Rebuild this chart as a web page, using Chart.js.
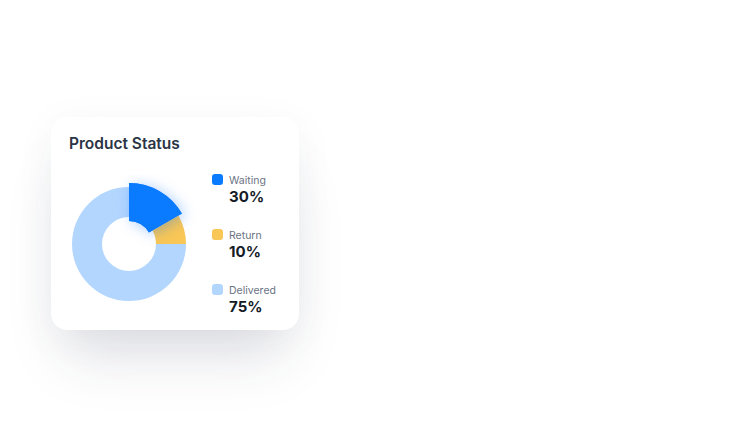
<!DOCTYPE html>
<html>
<head>
<meta charset="utf-8">
<script src="https://cdn.jsdelivr.net/npm/chart.js@4.4.1/dist/chart.umd.min.js"></script>
<style>
  html, body { margin: 0; padding: 0; background: #ffffff; }
  body { width: 735px; height: 435px; position: relative; overflow: hidden; font-family: Inter, "Noto Sans", sans-serif; }
  .card {
    position: absolute; left: 51px; top: 117px; width: 248px; height: 213px;
    background: #ffffff; border-radius: 16px;
    box-shadow: 0 40px 56px -16px rgba(40, 50, 80, 0.15), 0 8px 40px rgba(40, 50, 80, 0.05);
  }
  .title {
    position: absolute; left: 69px; top: 134px; font-size: 15.5px; line-height: 20px;
    font-weight: 600; color: #2b3445; white-space: nowrap;
  }
  #wrap { position: absolute; left: 59px; top: 174px; width: 140px; height: 140px; }
  .item { position: absolute; left: 212px; }
  .sw { position: absolute; left: 0; top: 0; width: 11px; height: 11px; border-radius: 3px; }
  .lab { position: absolute; left: 17px; top: 0.5px; font-size: 10.5px; line-height: 11px; color: #6b7383; white-space: nowrap; }
  .pct { position: absolute; left: 17px; top: 14.5px; font-size: 15px; line-height: 15px; font-weight: 700; color: #141a26; white-space: nowrap; letter-spacing: 0.1px; }
</style>
</head>
<body>
<div class="card"></div>
<div class="title">Product Status</div>
<div id="wrap"><canvas id="c" width="140" height="140"></canvas></div>
<div id="legend"></div>
<script>
// ---- data ----
const categories = ["Waiting", "Return", "Delivered"];
const labelPercents = [30, 10, 75];          // numbers printed in the legend
const arcShares = [16.7, 8.3, 75];           // angular share of each slice as drawn
const colors = ["#0a7bff", "#f9c756", "#b3d6ff"];

// ---- styling (per-slice ring radii in px) ----
const sliceOuter = [61, 57, 57];
const sliceInner = [23, 27, 27];
const legendTops = [174, 229, 284];

// legend (HTML, built from the arrays)
const legend = document.getElementById('legend');
categories.forEach((name, i) => {
  const d = document.createElement('div');
  d.className = 'item';
  d.style.top = legendTops[i] + 'px';
  d.innerHTML = '<div class="sw" style="background:' + colors[i] + '"></div>' +
    '<div class="lab">' + name + '</div>' +
    '<div class="pct">' + labelPercents[i] + '%</div>';
  legend.appendChild(d);
});

const sliceRadii = {
  id: 'sliceRadii',
  afterUpdate(chart) {
    const meta = chart.getDatasetMeta(0);
    meta.data.forEach((arc, i) => {
      arc.outerRadius = sliceOuter[i];
      arc.innerRadius = sliceInner[i];
    });
  },
  afterDatasetsDraw(chart) {
    const ctx = chart.ctx;
    const arc = chart.getDatasetMeta(0).data[0];
    ctx.save();
    ctx.shadowColor = 'rgba(10, 110, 255, 0.35)';
    ctx.shadowBlur = 14;
    ctx.shadowOffsetX = 3;
    ctx.shadowOffsetY = 2;
    arc.draw(ctx);
    ctx.restore();
  }
};

new Chart(document.getElementById('c'), {
  type: 'doughnut',
  data: {
    labels: categories,
    datasets: [{
      data: arcShares,
      backgroundColor: colors,
      borderWidth: 0,
      hoverOffset: 0
    }]
  },
  options: {
    responsive: false,
    animation: false,
    cutout: 27,
    radius: 57,
    rotation: 0,
    layout: { padding: 0 },
    plugins: { legend: { display: false }, tooltip: { enabled: false } }
  },
  plugins: [sliceRadii]
});
</script>
</body>
</html>
